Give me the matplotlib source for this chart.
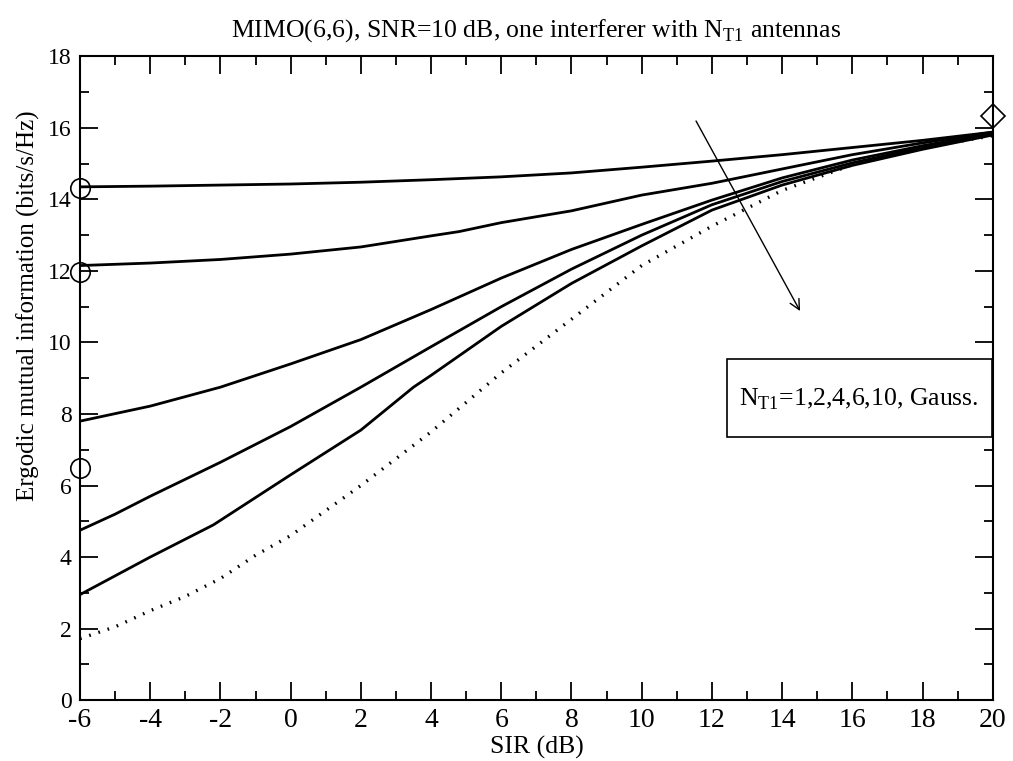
import matplotlib
matplotlib.use("Agg")
import matplotlib.pyplot as plt
from matplotlib.patches import Rectangle
from matplotlib.ticker import MultipleLocator

plt.rcParams['font.family'] = ['Liberation Serif', 'DejaVu Serif']
plt.rcParams['mathtext.fontset'] = 'custom'
plt.rcParams['mathtext.rm'] = 'Liberation Serif'
plt.rcParams['axes.unicode_minus'] = False

# SIR (dB) and ergodic mutual information for N_T1 = 1, 2, 4, 6, 10
sir_1 = [-6, -4, -2, 0, 2, 4, 6, 8, 10, 12, 14, 16, 18, 20]
mi_1 = [14.35, 14.37, 14.40, 14.43, 14.48, 14.55, 14.63, 14.74, 14.90,
        15.07, 15.25, 15.45, 15.65, 15.88]

sir_2 = [-6, -4, -2, 0, 2, 4, 4.8, 6, 8, 10, 12, 14, 16, 18, 20]
mi_2 = [12.15, 12.22, 12.32, 12.47, 12.67, 12.98, 13.10, 13.35, 13.68,
        14.12, 14.45, 14.85, 15.25, 15.58, 15.88]

sir_4 = [-6, -4, -2, 0, 2, 4, 6, 8, 10, 12, 14, 16, 18, 20]
mi_4 = [7.80, 8.22, 8.75, 9.40, 10.08, 10.92, 11.80, 12.60, 13.30, 13.98,
        14.60, 15.10, 15.50, 15.85]

sir_6 = [-6, -5, -4, -2, 0, 2, 4, 6, 8, 10, 12, 14, 16, 18, 20]
mi_6 = [4.75, 5.20, 5.70, 6.65, 7.65, 8.75, 9.88, 11.00, 12.05, 13.00,
        13.85, 14.50, 15.02, 15.45, 15.82]

sir_10 = [-6, -4, -2.2, 0, 2, 3.5, 4, 6, 8, 10, 12, 14, 16, 18, 20]
mi_10 = [2.95, 4.00, 4.90, 6.30, 7.55, 8.75, 9.08, 10.45, 11.65, 12.70,
         13.70, 14.40, 14.95, 15.40, 15.80]

# Gaussian interferer (dotted)
sir_g = [-6, -5, -4, -3, -2, -1, 0, 1, 2, 4, 6, 8, 10, 12, 14, 16, 18, 20]
mi_g = [1.72, 2.05, 2.50, 2.90, 3.40, 4.05, 4.60, 5.30, 6.00, 7.50, 9.15,
        10.65, 12.15, 13.25, 14.25, 14.97, 15.45, 15.78]

# limiting values marked on the axes
circ_x = [-6, -6, -6]
circ_y = [14.33, 11.98, 6.48]
diam_x = [20]
diam_y = [16.32]

fig = plt.figure(figsize=(10.13, 7.61), dpi=100)
ax = fig.add_axes([0.079, 0.080, 0.901, 0.846])

for xs, ys in [(sir_1, mi_1), (sir_2, mi_2), (sir_4, mi_4),
               (sir_6, mi_6), (sir_10, mi_10)]:
    ax.plot(xs, ys, color='black', lw=2.0)
ax.plot(sir_g, mi_g, color='black', lw=2.4, linestyle=(0, (0.5, 2.4)))

ax.plot(circ_x, circ_y, 'o', mfc='none', mec='black', ms=14, mew=1.2,
        clip_on=False, zorder=5)
ax.plot(diam_x, diam_y, 'D', mfc='none', mec='black', ms=12, mew=1.2,
        clip_on=False, zorder=5)

ax.annotate('', xy=(14.55, 10.81), xytext=(11.51, 16.26),
            arrowprops=dict(arrowstyle='->', color='black', lw=1.0,
                            mutation_scale=18))

ax.add_patch(Rectangle((12.42, 7.35), 7.55, 2.18, fill=True, fc='white',
                       ec='black', lw=1.2, zorder=4))
ax.text(16.2, 8.42, r'N$_{\mathregular{T1}}$=1,2,4,6,10, Gauss.',
        ha='center', va='center', fontsize=18.5, zorder=5)

ax.set_xlim(-6, 20)
ax.set_ylim(0, 18)
ax.xaxis.set_major_locator(MultipleLocator(2))
ax.xaxis.set_minor_locator(MultipleLocator(1))
ax.yaxis.set_major_locator(MultipleLocator(2))
ax.yaxis.set_minor_locator(MultipleLocator(1))
ax.tick_params(which='both', direction='in', top=True, right=True,
               width=1.3, pad=6)
ax.tick_params(axis='x', labelsize=20)
ax.tick_params(axis='y', labelsize=17)
ax.tick_params(which='major', length=13)
ax.tick_params(which='minor', length=6.5)
for sp in ax.spines.values():
    sp.set_linewidth(1.5)

ax.set_xlabel('SIR (dB)', fontsize=18.5, labelpad=2)
ax.set_ylabel('Ergodic mutual information (bits/s/Hz)', fontsize=18)
ax.yaxis.set_label_coords(-0.044, 0.613)
ax.set_title(r'MIMO(6,6), SNR=10 dB, one interferer with N$_{\mathregular{T1}}$ antennas',
             fontsize=18.5, pad=14)

fig.savefig('out.png', dpi=100)
